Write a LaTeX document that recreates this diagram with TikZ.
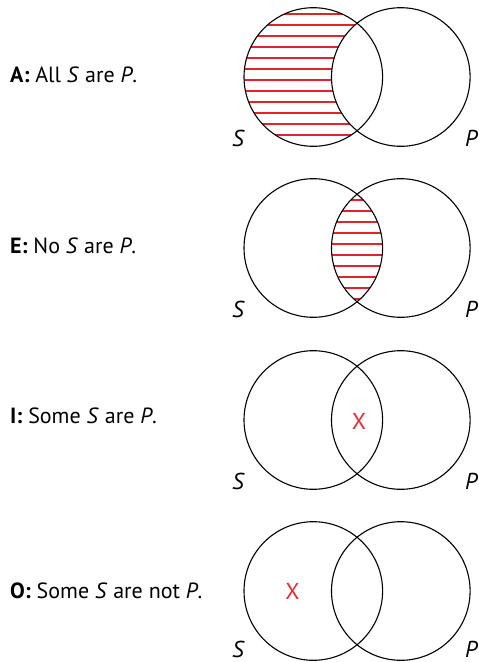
\documentclass[tikz,border=0pt]{standalone}
\usepackage{fontspec}
\setmainfont{PT Sans}
\usetikzlibrary{positioning}
\definecolor{hatchred}{RGB}{225,35,45}
\definecolor{markred}{RGB}{228,45,55}

\begin{document}
\begin{tikzpicture}[x=1pt, y=-1pt,
    ring/.style={draw=black, line width=1.1pt},
    hatch/.style={hatchred, line width=1.1pt},
    claim/.style={anchor=west, inner sep=0pt, font=\fontsize{22}{26}\selectfont},
    term/.style={inner sep=0pt, font=\fontsize{23}{27}\selectfont\itshape},
    xmark/.style={markred, inner sep=0pt, font=\fontsize{23}{27}\selectfont}]
  \useasboundingbox (0,0) rectangle (479,662);
  % circle centres of the four diagrams
  \coordinate (s1) at (313.3,77);  \coordinate (p1) at (400.8,77);
  \coordinate (s2) at (313.3,248); \coordinate (p2) at (400.8,248);
  \coordinate (s3) at (313.3,420); \coordinate (p3) at (400.8,420);
  \coordinate (s4) at (313.3,591); \coordinate (p4) at (400.8,591);
  % A: S outside P hatched
  \begin{scope}
    \clip (s1) circle[radius=69.3pt];
    \foreach \k in {0,...,11}
      \draw[hatch] (230,14+11*\k) -- (400,14+11*\k);
  \end{scope}
  \fill[white] (p1) circle[radius=69.3pt];
  % E: overlap hatched
  \begin{scope}
    \clip (s2) circle[radius=69.3pt];
    \clip (p2) circle[radius=69.3pt];
    \foreach \k in {0,...,9}
      \draw[hatch] (300,200+11*\k) -- (420,200+11*\k);
  \end{scope}
  % the circle pairs with their letters
  \foreach \i/\y in {1/77,2/248,3/420,4/588} {
    \draw[ring] (s\i) circle[radius=69.3pt];
    \draw[ring] (p\i) circle[radius=69.3pt];
    \node[term] (lbls\i) at (238,\y+61) {S};
    \node[term, anchor=west] (lblp\i) at (465,\y+61) {P};
  }
  % I and O marks
  \node[xmark] (x3) at (359,421) {X};
  \node[xmark] (x4) at (292.5,591) {X};
  % statements
  \node[claim] (a) at (10,75) {\textbf{A:} All \textit{S} are \textit{P}.};
  \node[claim] (e) at (10,246) {\textbf{E:} No \textit{S} are \textit{P}.};
  \node[claim] (i) at (10,416) {\textbf{I:} Some \textit{S} are \textit{P}.};
  \node[claim] (o) at (10,591) {\textbf{O:} Some \textit{S} are not \textit{P}.};
\end{tikzpicture}
\end{document}
